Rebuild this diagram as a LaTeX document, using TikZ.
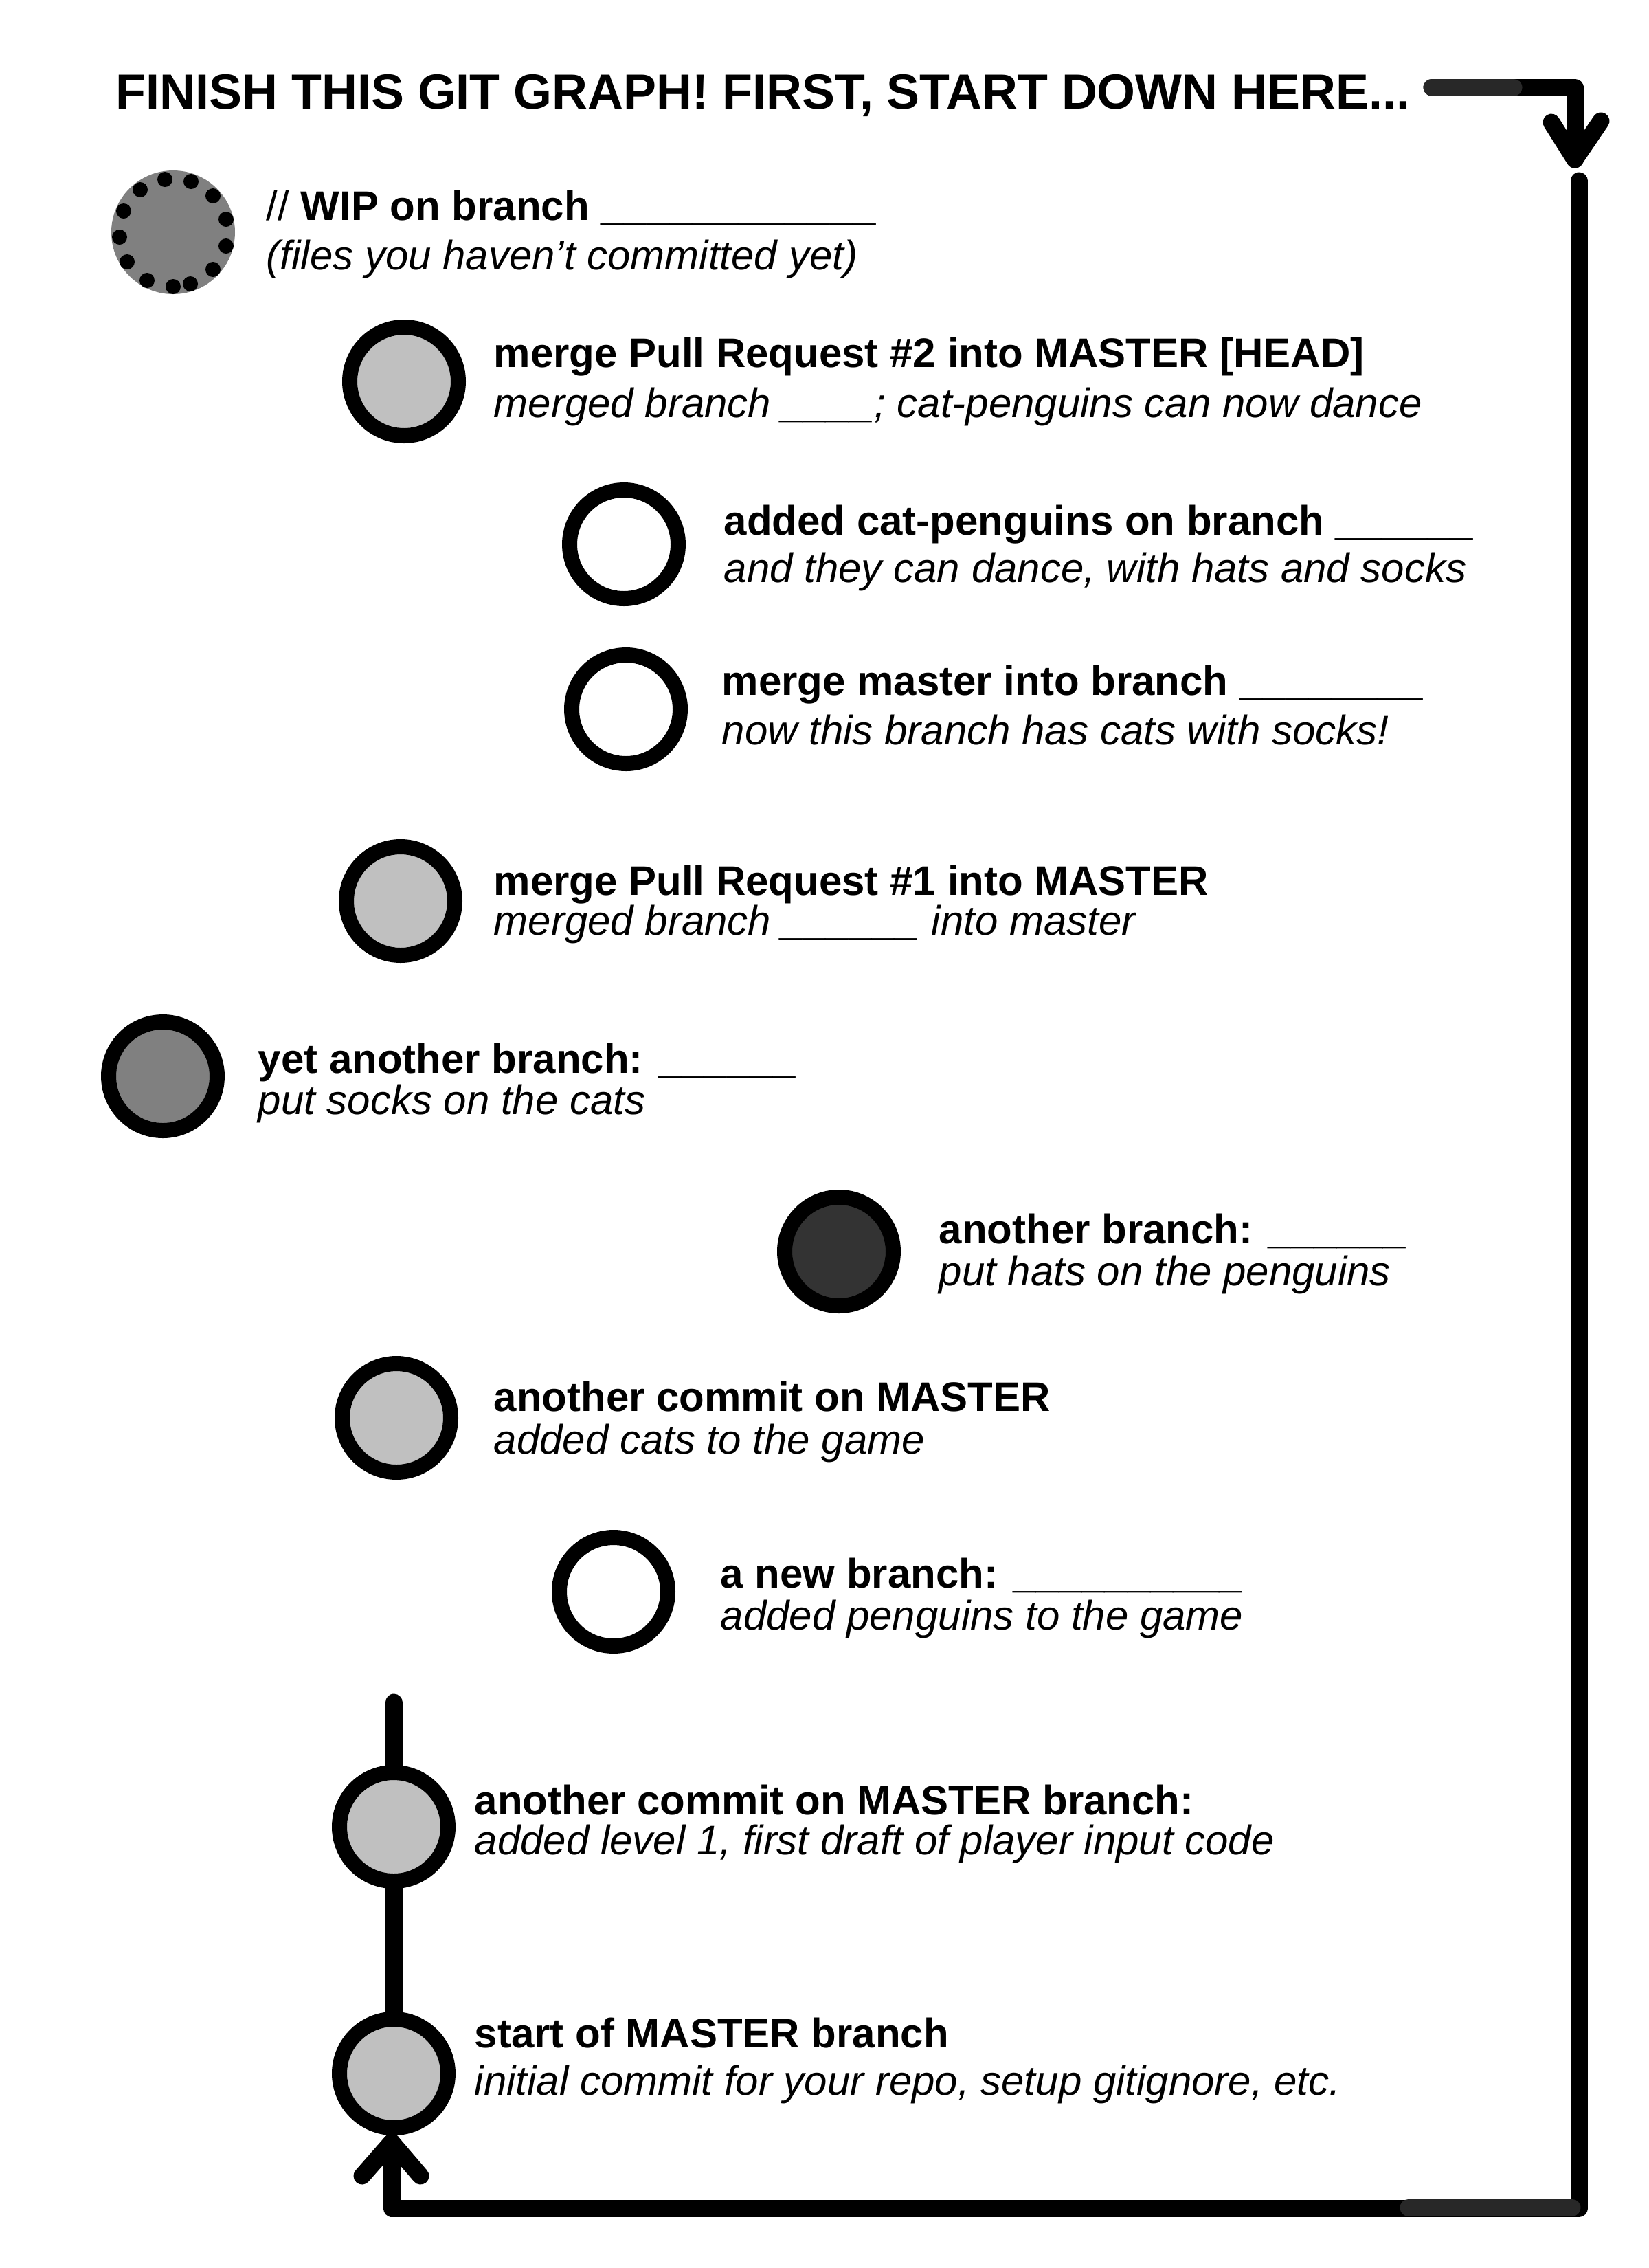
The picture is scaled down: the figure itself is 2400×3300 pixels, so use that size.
\documentclass[tikz,border=0pt]{standalone}
\usepackage{fontspec}
\setmainfont{Liberation Sans}
\usetikzlibrary{calc,backgrounds}
\definecolor{lg}{HTML}{C0C0C0}
\definecolor{mg}{HTML}{808080}
\definecolor{dg}{HTML}{333333}
\definecolor{sg}{HTML}{282828}
\begin{document}
\begin{tikzpicture}[x=0.24pt,y=-0.24pt,
  commit/.style={circle, draw=black, line width=5.28pt, minimum size=37.92pt, inner sep=0pt},
  headline/.style={anchor=base west, inner sep=0pt, font=\fontsize{14.4}{17}\selectfont\bfseries},
  subline/.style={anchor=base west, inner sep=0pt, font=\fontsize{14.4}{17}\selectfont\itshape},
  heavy/.style={line width=6pt, line cap=round, line join=round},
  shade seg/.style={line width=6pt, line cap=round, draw=sg},
]
\useasboundingbox (0,0) rectangle (2400,3300);

% title
\node[anchor=base west, inner sep=0pt, font=\fontsize{17.25}{20}\selectfont\bfseries] (title) at (168,158) {FINISH THIS GIT GRAPH! FIRST, START DOWN HERE...};

% commits
\node[circle, fill=mg, minimum size=43.2pt, inner sep=0pt] (c1) at (252,338) {};
\foreach \dx/\dy in {-12/-77, 26/-74, -48/-62, 58/-53, -72/-31, 77/-19, -78/7, 77/20, -67/43, 58/54, -38/70, 0/79, 25/75}
  \fill ($(c1)+(\dx,\dy)$) circle[radius=2.64pt];
\node[commit, fill=lg]    (c2)  at (588,555)  {};
\node[commit, fill=white] (c3)  at (908,792)  {};
\node[commit, fill=white] (c4)  at (911,1032) {};
\node[commit, fill=lg]    (c5)  at (583,1311) {};
\node[commit, fill=mg]    (c6)  at (237,1566) {};
\node[commit, fill=dg]    (c7)  at (1221,1821) {};
\node[commit, fill=lg]    (c8)  at (577,2063) {};
\node[commit, fill=white] (c9)  at (893,2316) {};
\node[commit, fill=lg]    (c10) at (573,2658) {};
\node[commit, fill=lg]    (c11) at (573,3017) {};

% texts
\node[headline] (t1) at (387,320) {{\mdseries //} WIP on branch \_\_\_\_\_\_\_\_\_\_\_\_};
\node[subline]  (s1) at (387,392) {(files you haven’t committed yet)};
\node[headline] (t2) at (718,534) {merge Pull Request \#2 into MASTER [HEAD]};
\node[subline]  (s2) at (718,607) {merged branch \_\_\_\_; cat-penguins can now dance};
\node[headline] (t3) at (1053,778) {added cat-penguins on branch \_\_\_\_\_\_};
\node[subline]  (s3) at (1053,847) {and they can dance, with hats and socks};
\node[headline] (t4) at (1050,1011) {merge master into branch \_\_\_\_\_\_\_\_};
\node[subline]  (s4) at (1050,1083) {now this branch has cats with socks!};
\node[headline] (t5) at (718,1302) {merge Pull Request \#1 into MASTER};
\node[subline]  (s5) at (718,1360) {merged branch \_\_\_\_\_\_ into master};
\node[headline] (t6) at (375,1561) {yet another branch: \_\_\_\_\_\_};
\node[subline]  (s6) at (375,1621) {put socks on the cats};
\node[headline] (t7) at (1366,1809) {another branch: \_\_\_\_\_\_};
\node[subline]  (s7) at (1366,1870) {put hats on the penguins};
\node[headline] (t8) at (718,2053) {another commit on MASTER};
\node[subline]  (s8) at (718,2115) {added cats to the game};
\node[headline] (t9) at (1048,2310) {a new branch: \_\_\_\_\_\_\_\_\_\_};
\node[subline]  (s9) at (1048,2371) {added penguins to the game};
\node[headline] (t10) at (690,2640) {another commit on MASTER branch:};
\node[subline]  (s10) at (690,2698) {added level 1, first draft of player input code};
\node[headline] (t11) at (690,2979) {start of MASTER branch};
\node[subline]  (s11) at (690,3048) {initial commit for your repo, setup gitignore, etc.};

% master connectors (behind the commits)
\coordinate (m0) at (573,2477);
\begin{scope}[on background layer]
  \draw[heavy] (m0) -- (c10.center);
  \draw[heavy] (c10.center) -- (c11.center);
\end{scope}

% top arrow
\coordinate (a0) at (2084,127);
\coordinate (a1) at (2292,127);
\coordinate (a2) at (2292,232);
\draw[heavy] (a0) -- (a1) -- (a2);
\draw[heavy] ($(a2)+(-34,-54)$) -- (a2) -- ($(a2)+(38,-56)$);
\draw[shade seg] (a0) -- (2203,127);

% loop down the right and along the bottom
\coordinate (r0) at (2298,263);
\coordinate (r1) at (2298,3213);
\coordinate (b1) at (570,3213);
\coordinate (b2) at (570,3117);
\draw[heavy] (r0) -- (r1) -- (b1) -- (b2);
\draw[heavy] ($(b2)+(-43,49)$) -- (b2) -- ($(b2)+(42,49)$);
\draw[shade seg] (2050,3212) -- (2288,3212);
\end{tikzpicture}
\end{document}
